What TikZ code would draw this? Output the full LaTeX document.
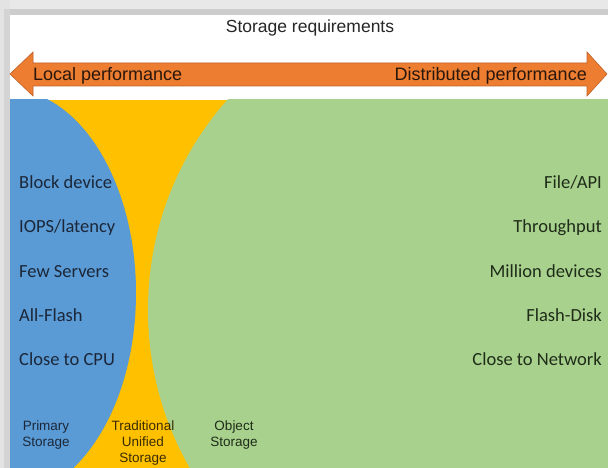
\documentclass[tikz,border=0pt]{standalone}
\usepackage{fontspec}
\setmainfont{Liberation Sans}
\newfontfamily\bodyfont{Carlito}
\definecolor{arroworange}{HTML}{ED7D31}
\definecolor{arrowedge}{HTML}{C0622A}
\definecolor{primaryblue}{HTML}{5B9BD5}
\definecolor{unifiedgold}{HTML}{FFC000}
\definecolor{objectgreen}{HTML}{A9D18E}
\definecolor{onblue}{HTML}{1B2739}
\definecolor{ongreen}{HTML}{1E2C18}
\definecolor{ongold}{HTML}{3A2C00}
\definecolor{onorange}{HTML}{2A170B}

\begin{document}
\begin{tikzpicture}
    [
    x=1pt,y=-1pt,
    heading/.style={font=\fontsize{17.5}{20}\selectfont,text=black!85,anchor=base,inner sep=0pt},
    endlabel/.style={font=\fontsize{18}{21}\selectfont,text=onorange,inner sep=0pt},
    feature/.style={font=\bodyfont\fontsize{18.5}{22}\selectfont,inner sep=0pt},
    storelabel/.style={font=\fontsize{13.5}{16}\selectfont,align=center,anchor=north,inner sep=0pt}
    ]
    \useasboundingbox (0,0) rectangle (608,468);
    % frame shadow
    \fill [gray!18] (0,0) rectangle (608,15);
    \fill [gray!40] (10,9) rectangle (608,15);
    \fill [gray!22] (0,0) rectangle (10,468);
    \fill [gray!34] (4,9) rectangle (10,468);
    \fill [white] (10,15) rectangle (608,468);
    % storage regions
    \begin{scope}
      \clip (10,100) rectangle (608,468);
      \fill [unifiedgold] (10,100) rectangle (608,468);
      \fill [primaryblue] (7,293) ellipse [x radius=129, y radius=204];
      \fill [objectgreen] (448,310) ellipse [x radius=300, y radius=310];
    \end{scope}
    % scale arrow
    \draw [arrowedge, fill=arroworange, line width=0.6pt]
      (10,74) -- (33,52) -- (33,63) -- (587,63) -- (587,52) -- (607,74)
      -- (587,96) -- (587,86) -- (33,86) -- (33,96) -- cycle;
    \node (title) at (310,33) [heading] {Storage requirements};
    \node (local) at (33,81) [endlabel,anchor=base west] {Local performance};
    \node (distributed) at (587,81) [endlabel,anchor=base east] {Distributed performance};
    \node (block) at (19,189) [feature,anchor=base west,text=onblue] {Block device};
    \node (iops) at (19,233) [feature,anchor=base west,text=onblue] {IOPS/latency};
    \node (servers) at (19,277) [feature,anchor=base west,text=onblue] {Few Servers};
    \node (flash) at (19,321) [feature,anchor=base west,text=onblue] {All-Flash};
    \node (cpu) at (19,365) [feature,anchor=base west,text=onblue] {Close to CPU};
    \node (fileapi) at (602,189) [feature,anchor=base east,text=ongreen] {File/API};
    \node (throughput) at (602,233) [feature,anchor=base east,text=ongreen] {Throughput};
    \node (devices) at (602,277) [feature,anchor=base east,text=ongreen] {Million devices};
    \node (disk) at (602,321) [feature,anchor=base east,text=ongreen] {Flash-Disk};
    \node (network) at (602,365) [feature,anchor=base east,text=ongreen] {Close to Network};
    \node (primary) at (46,421) [storelabel,text=onblue] {Primary\\Storage};
    \node (unified) at (143,421) [storelabel,text=ongold] {Traditional\\Unified\\Storage};
    \node (object) at (234,421) [storelabel,text=ongreen] {Object\\Storage};
  \end{tikzpicture}
\end{document}
